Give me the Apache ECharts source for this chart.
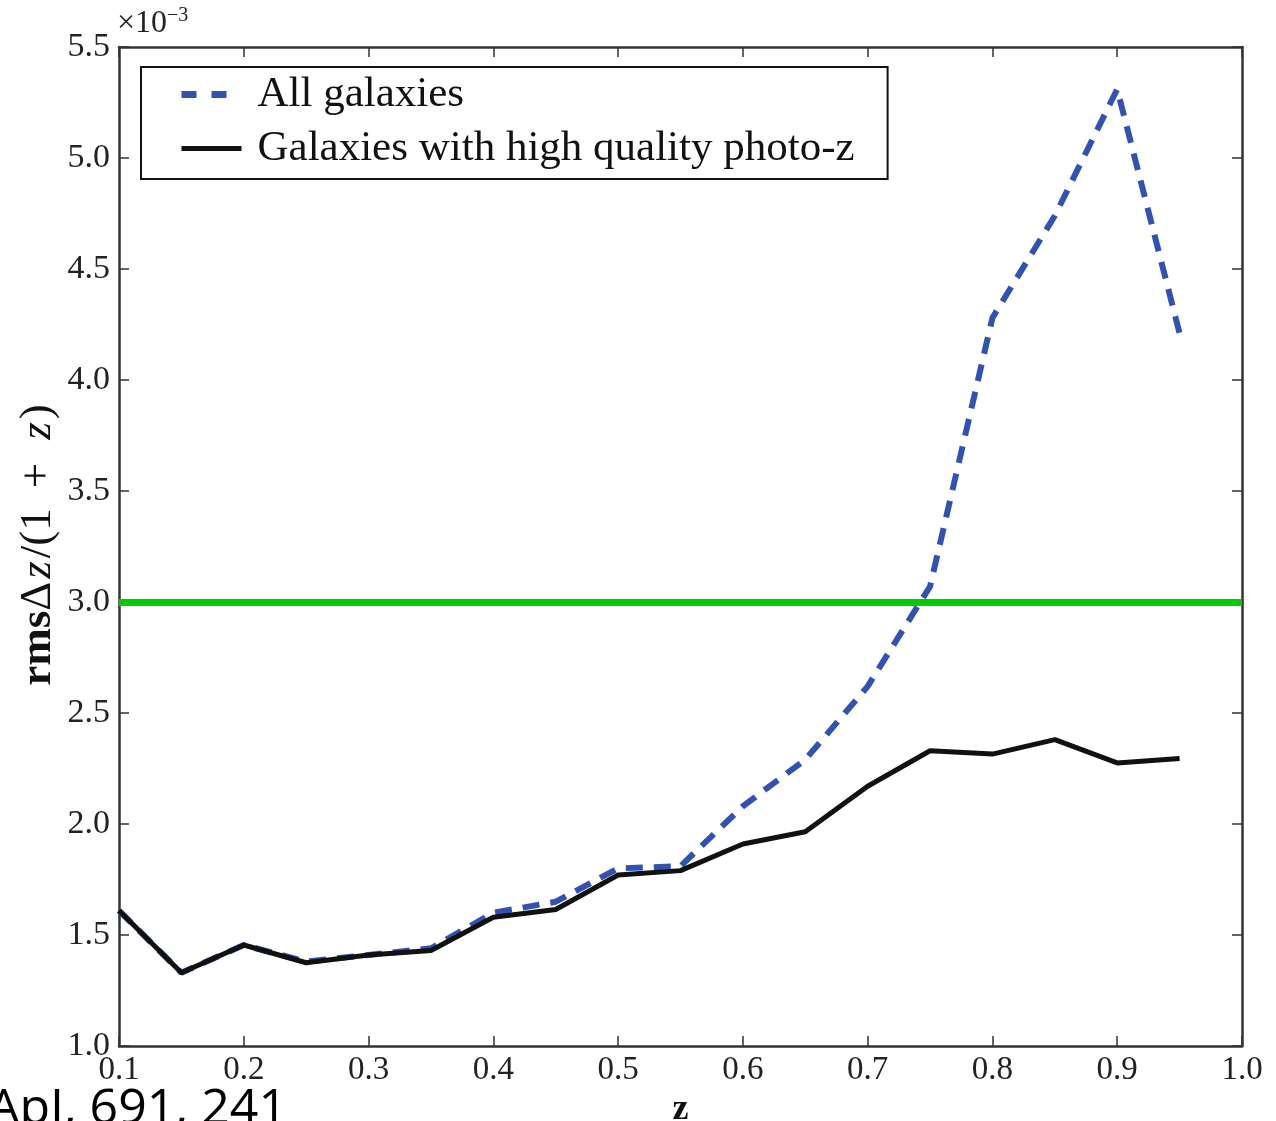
<!DOCTYPE html>
<html>
<head>
<meta charset="utf-8">
<script src="https://cdn.jsdelivr.net/npm/echarts@6/dist/echarts.min.js"></script>
<style>
html, body { margin: 0; padding: 0; background: #fff; }
#chart { width: 1276px; height: 1121px; }
</style>
</head>
<body>
<div id="chart"></div>
<script>
// Redshift bins
const redshift = [0.10, 0.15, 0.20, 0.25, 0.30, 0.35, 0.40, 0.45, 0.50, 0.55,
                  0.60, 0.65, 0.70, 0.75, 0.80, 0.85, 0.90, 0.95];
// rms dz/(1+z), in units of 1e-3
const allGalaxies = [1.61, 1.33, 1.455, 1.38, 1.41, 1.44, 1.60, 1.65, 1.80, 1.81,
                     2.08, 2.29, 2.62, 3.07, 4.28, 4.74, 5.31, 4.21];
const highQuality = [1.61, 1.33, 1.455, 1.375, 1.41, 1.43, 1.58, 1.615, 1.77, 1.79,
                     1.91, 1.965, 2.17, 2.33, 2.315, 2.38, 2.275, 2.295];
// Requirement level
const targetLevel = 3.0;

const xTicks = { min: 0.1, max: 1.0, step: 0.1 };
const yTicks = { min: 1.0, max: 5.5, step: 0.5 };

const serif = "'Liberation Serif', 'DejaVu Serif', serif";
const axisColor = '#333';

const chart = echarts.init(document.getElementById('chart'));

function axisBase(extra) {
  return Object.assign({
    type: 'value',
    axisLine: { show: true, onZero: false, lineStyle: { color: axisColor, width: 2.5 } },
    axisTick: { show: true, inside: true, length: 10, lineStyle: { color: axisColor, width: 1.5 } },
    splitLine: { show: false }
  }, extra);
}

chart.setOption({
  animation: false,
  backgroundColor: '#fff',
  grid: { left: 119, right: 34, top: 47, bottom: 75, containLabel: false, outerBoundsMode: 'none' },
  xAxis: [
    axisBase({
      position: 'bottom', min: xTicks.min, max: xTicks.max, interval: xTicks.step,
      axisLabel: { margin: 8, fontFamily: serif, fontSize: 33, color: '#222',
                   formatter: v => v.toFixed(1) },
      name: 'z', nameLocation: 'middle', nameGap: 46,
      nameTextStyle: { fontFamily: serif, fontSize: 36, fontWeight: 'bold', color: '#111' }
    }),
    axisBase({
      position: 'top', min: xTicks.min, max: xTicks.max, interval: xTicks.step,
      axisLabel: { show: false }
    })
  ],
  yAxis: [
    axisBase({
      position: 'left', min: yTicks.min, max: yTicks.max, interval: yTicks.step,
      axisLabel: { margin: 9, fontFamily: serif, fontSize: 34, color: '#222',
                   formatter: v => v.toFixed(1) }
    }),
    axisBase({
      position: 'right', min: yTicks.min, max: yTicks.max, interval: yTicks.step,
      axisLabel: { show: false }
    })
  ],
  legend: {
    orient: 'vertical',
    left: 141, top: 67,
    padding: [6, 33, 9, 37],
    itemGap: 11,
    itemWidth: 60,
    itemHeight: 14,
    backgroundColor: '#fff',
    borderColor: '#111',
    borderWidth: 2,
    borderRadius: 0,
    textStyle: { fontFamily: serif, fontSize: 43, color: '#111', lineHeight: 42, padding: [0, 0, 0, 11] },
    data: [
      { name: 'All galaxies', itemStyle: { opacity: 0 },
        lineStyle: { type: [15, 15], width: 7, color: '#3352b0' } },
      { name: 'Galaxies with high quality photo-z', itemStyle: { opacity: 0 },
        lineStyle: { width: 5, color: '#111' } }
    ]
  },
  series: [
    {
      name: 'All galaxies',
      type: 'line',
      symbol: 'none',
      showSymbol: false,
      lineStyle: { color: '#3352b0', width: 6, type: [17, 11] },
      itemStyle: { color: '#3352b0' },
      data: redshift.map((z, i) => [z, allGalaxies[i]]),
      z: 2
    },
    {
      name: 'Galaxies with high quality photo-z',
      type: 'line',
      symbol: 'none',
      showSymbol: false,
      lineStyle: { color: '#111', width: 5 },
      itemStyle: { color: '#111' },
      data: redshift.map((z, i) => [z, highQuality[i]]),
      z: 3
    },
    {
      name: 'target',
      type: 'line',
      data: [],
      z: 4,
      markLine: {
        silent: true,
        symbol: ['none', 'none'],
        label: { show: false },
        lineStyle: { color: '#00cc00', width: 7, type: 'solid' },
        data: [{ yAxis: targetLevel }]
      }
    }
  ],
  graphic: [
    {
      type: 'text',
      left: 117, top: 6,
      style: {
        text: '×10{s|−3}',
        fontFamily: serif, fontSize: 32, fill: '#222',
        rich: { s: { fontFamily: serif, fontSize: 20, verticalAlign: 'top', padding: [0, 0, 16, 0], fill: '#222' } }
      }
    },
    {
      type: 'text',
      x: 38, y: 545,
      rotation: Math.PI / 2,
      style: {
        text: '{b|rms}{n|Δ}{i|z}{n|/(1}{sp| }{n|+}{sp| }{i|z}{n|)}',
        textAlign: 'center', textVerticalAlign: 'middle',
        fill: '#111',
        rich: {
          b: { fontFamily: serif, fontSize: 45, fontWeight: 'bold', fill: '#111' },
          n: { fontFamily: serif, fontSize: 45, fill: '#111' },
          i: { fontFamily: serif, fontSize: 45, fontStyle: 'italic', fill: '#111', padding: [0, 3, 0, 3] },
          sp: { fontFamily: serif, fontSize: 45, width: 20, fill: '#111' }
        }
      }
    },
    {
      type: 'text',
      x: -12, y: 1110,
      style: {
        text: 'ApJ, 691, 241',
        fontFamily: "'Open Sans', 'Noto Sans', sans-serif",
        fontSize: 50, fill: '#000',
        textAlign: 'left', textVerticalAlign: 'middle'
      }
    }
  ]
});
</script>
</body>
</html>
